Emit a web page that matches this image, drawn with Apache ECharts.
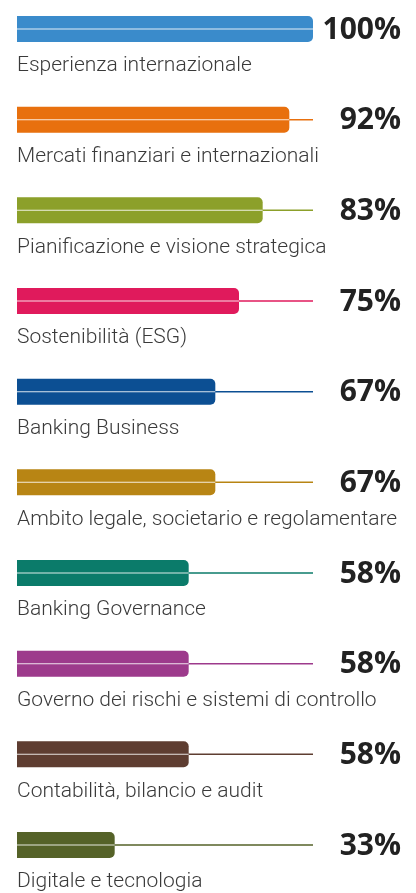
<!DOCTYPE html>
<html>
<head>
<meta charset="utf-8">
<script src="https://cdn.jsdelivr.net/npm/echarts@6/dist/echarts.min.js"></script>
<style>
  html, body { margin: 0; padding: 0; background: #ffffff; }
  #chart { width: 416px; height: 893px; }
</style>
</head>
<body>
<div id="chart"></div>
<script>
// Competenze del consiglio: quota di consiglieri per area di competenza (%)
const categories = [
  'Esperienza internazionale',
  'Mercati finanziari e internazionali',
  'Pianificazione e visione strategica',
  'Sostenibilità (ESG)',
  'Banking Business',
  'Ambito legale, societario e regolamentare',
  'Banking Governance',
  'Governo dei rischi e sistemi di controllo',
  'Contabilità, bilancio e audit',
  'Digitale e tecnologia'
];
const values = [100, 92, 83, 75, 67, 67, 58, 58, 58, 33];
const colors = [
  '#3a8bcb', '#e8700e', '#8ca02a', '#e01a5c', '#0c4f93',
  '#b88514', '#0b7b6a', '#9d3a8c', '#5e3d31', '#556228'
];
const fullScale = 100;

const chart = echarts.init(document.getElementById('chart'), null, { renderer: 'canvas' });

// three identical hidden category axes so every layer is centred on the row
const rowAxis = () => ({
  type: 'category', data: categories, inverse: true,
  boundaryGap: false, show: false
});

chart.setOption({
  animation: false,
  grid: { left: 17, right: 103, top: 29, bottom: 48, containLabel: false },
  xAxis: { type: 'value', min: 0, max: fullScale, show: false },
  yAxis: [rowAxis(), rowAxis(), rowAxis()],
  series: [
    {
      // thin track line to full scale, carries the value label
      type: 'bar',
      yAxisIndex: 0,
      data: categories.map((c, i) => ({ value: fullScale, itemStyle: { color: colors[i] } })),
      barWidth: 1.5,
      z: 1,
      label: {
        show: true,
        position: ['100%', '50%'],
        offset: [88, 1],
        align: 'right',
        verticalAlign: 'middle',
        formatter: p => values[p.dataIndex] + '%',
        fontFamily: 'Open Sans',
        fontWeight: 'bold',
        fontSize: 30,
        color: '#222222'
      }
    },
    {
      // main bars, category label underneath
      type: 'bar',
      yAxisIndex: 1,
      data: values.map((v, i) => ({ value: v, itemStyle: { color: colors[i] } })),
      barWidth: 26,
      z: 2,
      itemStyle: { borderRadius: [0, 5, 5, 0] },
      label: {
        show: true,
        position: [0, 50],
        align: 'left',
        verticalAlign: 'middle',
        formatter: p => categories[p.dataIndex],
        fontFamily: 'Roboto',
        fontWeight: 300,
        fontSize: 21,
        color: '#3a3a3a'
      }
    },
    {
      // hairline highlight through the middle of each bar
      type: 'bar',
      yAxisIndex: 2,
      data: values,
      barWidth: 1,
      z: 3,
      itemStyle: { color: 'rgba(255,255,255,0.85)' },
      silent: true
    }
  ]
});
</script>
</body>
</html>
